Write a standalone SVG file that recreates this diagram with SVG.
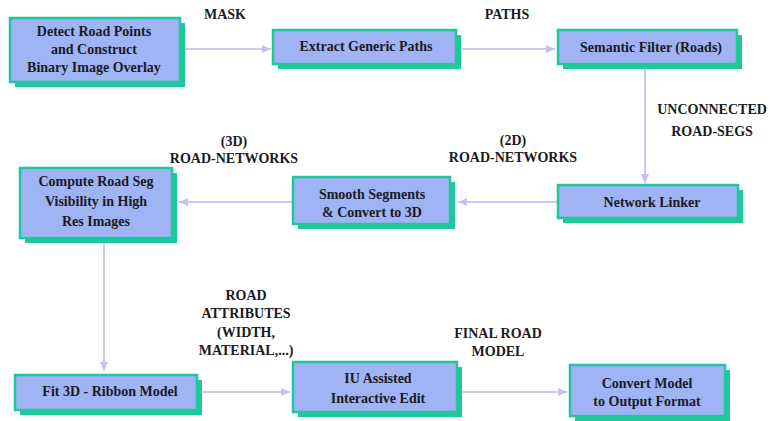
<svg xmlns="http://www.w3.org/2000/svg" width="770" height="421" viewBox="0 0 770 421">
<style>
.sh{fill:#1cc89c}
.bx{fill:#a0b3f5;stroke:#1cc89c;stroke-width:2.5}
.t{font-family:"Liberation Serif","Times New Roman",serif;font-weight:bold;font-size:14px;fill:#1a1a22;text-anchor:middle}
.c{fill:none;stroke:#cbc8f2;stroke-width:2}
</style>
<defs>
<marker id="ah" markerWidth="10" markerHeight="8" refX="9" refY="4" orient="auto" markerUnits="userSpaceOnUse">
<path d="M0,0 L9,4 L0,8 Z" fill="#c4c0f0"/>
</marker>
</defs>
<rect width="770" height="421" fill="#ffffff"/>
<g id="connectors">
<line class="c" x1="185" y1="49" x2="271" y2="49" marker-end="url(#ah)"/>
<line class="c" x1="462" y1="49" x2="555" y2="49" marker-end="url(#ah)"/>
<line class="c" x1="645" y1="69" x2="645" y2="183" marker-end="url(#ah)"/>
<line class="c" x1="558" y1="202" x2="458" y2="202" marker-end="url(#ah)"/>
<line class="c" x1="293" y1="202" x2="179" y2="202" marker-end="url(#ah)"/>
<line class="c" x1="104" y1="243" x2="104" y2="371" marker-end="url(#ah)"/>
<line class="c" x1="202" y1="392" x2="290" y2="392" marker-end="url(#ah)"/>
<line class="c" x1="463" y1="392" x2="567" y2="392" marker-end="url(#ah)"/>
</g>
<g id="labels">
<text class="t" x="225" y="19">MASK</text>
<text class="t" x="507" y="19">PATHS</text>
<text class="t" x="712" y="114">UNCONNECTED</text>
<text class="t" x="712" y="136">ROAD-SEGS</text>
<text class="t" x="513" y="145">(2D)</text>
<text class="t" x="513" y="162">ROAD-NETWORKS</text>
<text class="t" x="234" y="146">(3D)</text>
<text class="t" x="234" y="163">ROAD-NETWORKS</text>
<text class="t" x="246" y="300">ROAD</text>
<text class="t" x="246" y="318">ATTRIBUTES</text>
<text class="t" x="246" y="337">(WIDTH,</text>
<text class="t" x="246" y="355">MATERIAL,...)</text>
<text class="t" x="498" y="338">FINAL ROAD</text>
<text class="t" x="498" y="356">MODEL</text>
</g>
<g id="n1">
<rect class="sh" x="15" y="23" width="170" height="64"/>
<rect class="bx" x="10" y="18" width="170" height="64"/>
<text class="t" x="94" y="36">Detect Road Points</text>
<text class="t" x="94" y="54">and Construct</text>
<text class="t" x="94" y="72">Binary Image Overlay</text>
</g>
<g id="n2">
<rect class="sh" x="278" y="35" width="183" height="34"/>
<rect class="bx" x="273" y="30" width="183" height="34"/>
<text class="t" x="366" y="51">Extract Generic Paths</text>
</g>
<g id="n3">
<rect class="sh" x="563" y="35" width="179" height="34"/>
<rect class="bx" x="558" y="30" width="179" height="34"/>
<text class="t" x="651" y="52">Semantic Filter (Roads)</text>
</g>
<g id="n4">
<rect class="sh" x="563" y="190" width="180" height="33"/>
<rect class="bx" x="558" y="185" width="180" height="33"/>
<text class="t" x="652" y="207">Network Linker</text>
</g>
<g id="n5">
<rect class="sh" x="298" y="182" width="157" height="47"/>
<rect class="bx" x="293" y="177" width="157" height="47"/>
<text class="t" x="372" y="199">Smooth Segments</text>
<text class="t" x="372" y="217">&amp; Convert to 3D</text>
</g>
<g id="n6">
<rect class="sh" x="25" y="173" width="152" height="70"/>
<rect class="bx" x="20" y="168" width="152" height="70"/>
<text class="t" x="96" y="186">Compute Road Seg</text>
<text class="t" x="96" y="206">Visibility in High</text>
<text class="t" x="96" y="226">Res Images</text>
</g>
<g id="n7">
<rect class="sh" x="20" y="380" width="182" height="35"/>
<rect class="bx" x="15" y="375" width="182" height="35"/>
<text class="t" x="110" y="396">Fit 3D - Ribbon Model</text>
</g>
<g id="n8">
<rect class="sh" x="298" y="367" width="164" height="50"/>
<rect class="bx" x="293" y="362" width="164" height="50"/>
<text class="t" x="378" y="383">IU Assisted</text>
<text class="t" x="378" y="403">Interactive Edit</text>
</g>
<g id="n9">
<rect class="sh" x="575" y="370" width="155" height="51"/>
<rect class="bx" x="570" y="365" width="155" height="51"/>
<text class="t" x="647" y="388">Convert Model</text>
<text class="t" x="647" y="406">to Output Format</text>
</g>
</svg>
